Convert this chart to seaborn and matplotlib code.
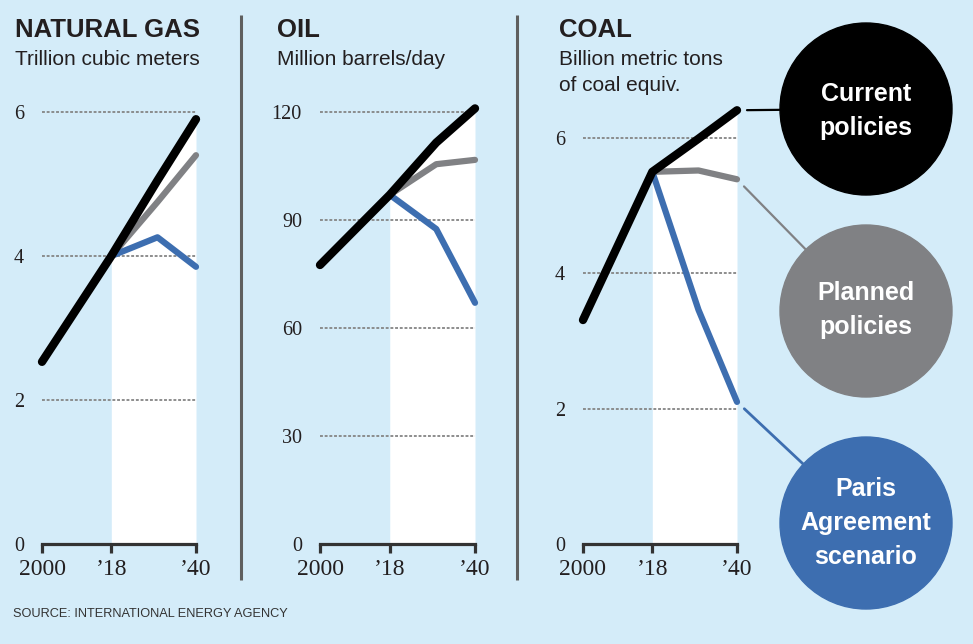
import matplotlib
matplotlib.use('Agg')
import matplotlib.pyplot as plt
import seaborn as sns
import numpy as np
from matplotlib.patches import Circle

# ---- data ----
YEARS = [2000, 2018, 2030, 2040]
PROJ_YEARS = [2018, 2030, 2040]
TICK_YEARS = [2000, 2018, 2040]
TICK_LABELS = ['2000', '\u201918', '\u201940']

GAS_CURRENT = [2.53, 4.0, 5.05, 5.9]
GAS_PLANNED = [4.0, 4.75, 5.4]
GAS_PARIS = [4.0, 4.26, 3.85]
GAS_TICKS = [0, 2, 4, 6]

OIL_CURRENT = [77.5, 97.0, 111.5, 121.0]
OIL_PLANNED = [97.0, 105.5, 106.7]
OIL_PARIS = [97.0, 87.5, 67.0]
OIL_TICKS = [0, 30, 60, 90, 120]

COAL_CURRENT = [3.31, 5.5, 5.99, 6.41]
COAL_PLANNED = [5.5, 5.52, 5.39]
COAL_PARIS = [5.5, 3.46, 2.1]
COAL_TICKS = [0, 2, 4, 6]

SCENARIOS = ['Current\npolicies', 'Planned\npolicies', 'Paris\nAgreement\nscenario']

# ---- style ----
W, H = 973, 644
BG = '#d4ecf9'
BLACK = '#000000'
GRAY = '#808184'
BLUE = '#3d6eb0'
INK = '#231f20'

sns.set_theme(style='white')
plt.rcParams['font.family'] = ['Liberation Sans', 'DejaVu Sans']
SERIF = ['Liberation Serif', 'DejaVu Serif']

fig = plt.figure(figsize=(W / 100, H / 100), dpi=100, facecolor=BG)


def px_axes(left, right, top, bottom):
    """Add axes from pixel box (y measured from the top)"""
    return fig.add_axes([left / W, 1 - bottom / H, (right - left) / W, (bottom - top) / H])


panels = [
    dict(title='NATURAL GAS', unit=['Trillion cubic meters'], text_x=15,
         current=GAS_CURRENT, planned=GAS_PLANNED, paris=GAS_PARIS,
         ticks=GAS_TICKS, box=(42, 196, 112, 544)),
    dict(title='OIL', unit=['Million barrels/day'], text_x=277,
         current=OIL_CURRENT, planned=OIL_PLANNED, paris=OIL_PARIS,
         ticks=OIL_TICKS, box=(320, 475, 112, 544)),
    dict(title='COAL', unit=['Billion metric tons', 'of coal equiv.'], text_x=559,
         current=COAL_CURRENT, planned=COAL_PLANNED, paris=COAL_PARIS,
         ticks=COAL_TICKS, box=(583, 737, 138, 544)),
]

axes = []
for p in panels:
    ax = px_axes(*p['box'])
    ax.set_facecolor('none')
    cur = p['current']
    proj_cur = cur[YEARS.index(2018):]

    # white projection area under the current-policies line
    ax.fill_between(PROJ_YEARS, 0, proj_cur, color='white', lw=0, zorder=1, clip_on=False)
    ax.hlines(p['ticks'][1:], 2000, 2040, colors='#858585', lw=1.3,
              linestyles=(0, (1.6, 1.0)), zorder=1.5, clip_on=False)

    common = dict(ax=ax, solid_capstyle='round', solid_joinstyle='round',
                  clip_on=False, legend=False)
    sns.lineplot(x=PROJ_YEARS, y=p['planned'], color=GRAY, lw=4.5, zorder=3, **common)
    sns.lineplot(x=PROJ_YEARS, y=p['paris'], color=BLUE, lw=4.5, zorder=4, **common)
    sns.lineplot(x=YEARS, y=cur, color=BLACK, lw=6.0, zorder=5, **common)

    ax.set_xlim(2000, 2040)
    ax.set_ylim(0, p['ticks'][-1])
    ax.set_xlabel('')
    ax.set_ylabel('')
    ax.set_xticks(TICK_YEARS)
    ax.set_xticklabels(TICK_LABELS)
    ax.set_yticks(p['ticks'])
    ax.set_yticklabels([str(t) for t in p['ticks']])
    ax.grid(False)
    for side in ['left', 'top', 'right']:
        ax.spines[side].set_visible(False)
    ax.spines['bottom'].set_color('#333333')
    ax.spines['bottom'].set_linewidth(2.3)
    ax.spines['bottom'].set_zorder(6)
    ax.tick_params(axis='x', direction='out', length=6.5, width=2.3, color='#333333',
                   pad=4.5, labelsize=17, labelcolor=INK, bottom=True)
    ax.tick_params(axis='y', length=0, pad=13, labelsize=14.5, labelcolor=INK, left=True)
    for lab in ax.get_xticklabels() + ax.get_yticklabels():
        lab.set_fontfamily(SERIF)
    axes.append(ax)

# ---- overlay in pixel coordinates ----
ov = fig.add_axes([0, 0, 1, 1])
ov.set_xlim(0, W)
ov.set_ylim(H, 0)
ov.axis('off')
ov.patch.set_visible(False)

for p in panels:
    ov.text(p['text_x'], 37, p['title'], fontsize=18.5, fontweight='bold', color=INK,
            va='baseline', ha='left')
    for i, line in enumerate(p['unit']):
        ov.text(p['text_x'], 65 + 26 * i, line, fontsize=15, color=INK,
                va='baseline', ha='left')

# separators
for x in [241, 517]:
    ov.plot([x, x], [15, 580], color='#5f5f5f', lw=2.2, solid_capstyle='butt')

# legend bubbles, linked to the coal line ends
coal_ax = axes[2]
bubbles = [
    (SCENARIOS[0], COAL_CURRENT[-1], BLACK, (866, 109), 111, 1.6),
    (SCENARIOS[1], COAL_PLANNED[-1], GRAY, (866, 311), 310, 1.6),
    (SCENARIOS[2], COAL_PARIS[-1], BLUE, (866, 523), 523, 2.0),
]
for label, end_val, color, center, text_y, lw in bubbles:
    dx, dy = coal_ax.transData.transform((2040, end_val))
    end = np.array([dx, H - dy])
    c = np.array(center, dtype=float)
    u = (c - end) / np.linalg.norm(c - end)
    start = end + 10 * u
    ov.plot([start[0], c[0]], [start[1], c[1]], color=color, lw=lw, zorder=2)
    ov.add_patch(Circle(center, 86, color=color, zorder=3))
    ov.text(center[0], text_y, label, color='white', fontsize=18, fontweight='bold',
            ha='center', va='center', linespacing=1.5, zorder=4)

ov.text(13, 617, 'SOURCE: INTERNATIONAL ENERGY AGENCY', fontsize=9.2, color='#333333',
        va='baseline', ha='left')

fig.savefig('out.png', dpi=100, facecolor=BG)
